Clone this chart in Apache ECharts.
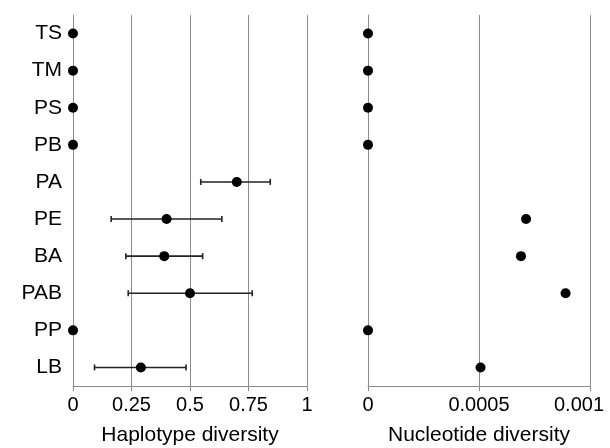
<!DOCTYPE html>
<html>
<head>
<meta charset="utf-8">
<script src="https://cdn.jsdelivr.net/npm/echarts@6/dist/echarts.min.js"></script>
<style>
  html, body { margin: 0; padding: 0; background: #fff; }
  #chart { width: 610px; height: 448px; }
</style>
</head>
<body>
<div id="chart"></div>
<script>
var populations = ["TS", "TM", "PS", "PB", "PA", "PE", "BA", "PAB", "PP", "LB"];
// haplotype diversity with error range
var hapValues = [0, 0, 0, 0, 0.70, 0.40, 0.39, 0.50, 0, 0.29];
var hapLow = [null, null, null, null, 0.546, 0.163, 0.226, 0.236, null, 0.092];
var hapHigh = [null, null, null, null, 0.843, 0.636, 0.554, 0.766, null, 0.483];
// nucleotide diversity (PA has no value)
var nucValues = [0, 0, 0, 0, null, 0.000712, 0.000689, 0.00089, 0, 0.000507];

var fontFamily = "'Liberation Sans', Arial, sans-serif";
var gray = "#8c8c8c";

var hapPoints = [];
var hapBars = [];
var nucPoints = [];
populations.forEach(function (p, i) {
  hapPoints.push([hapValues[i], p]);
  if (hapLow[i] != null) {
    hapBars.push([hapLow[i], hapHigh[i], i]);
  }
  if (nucValues[i] != null) {
    nucPoints.push([nucValues[i], p]);
  }
});

function errorBar(params, api) {
  var y = api.value(2);
  var a = api.coord([api.value(0), y]);
  var b = api.coord([api.value(1), y]);
  var h = 3;
  var style = { stroke: "#222", lineWidth: 1.6 };
  return {
    type: "group",
    children: [
      { type: "line", shape: { x1: a[0], y1: a[1], x2: b[0], y2: b[1] }, style: style },
      { type: "line", shape: { x1: a[0], y1: a[1] - h, x2: a[0], y2: a[1] + h }, style: style },
      { type: "line", shape: { x1: b[0], y1: b[1] - h, x2: b[0], y2: b[1] + h }, style: style }
    ]
  };
}

function valueAxis(gridIndex, max, interval, name) {
  return {
    type: "value",
    gridIndex: gridIndex,
    min: 0,
    max: max,
    interval: interval,
    name: name,
    nameLocation: "middle",
    nameGap: 39,
    nameTextStyle: { color: "#000", fontSize: 21, fontFamily: fontFamily },
    axisLine: { show: true, lineStyle: { color: gray, width: 1 } },
    axisTick: { show: true, length: 5, lineStyle: { color: gray } },
    axisLabel: {
      color: "#000",
      fontSize: 20,
      fontFamily: fontFamily,
      margin: 9,
      // last label on the right panel sits a bit left, like in the original
      formatter: function (v) {
        return gridIndex === 1 && v === max ? "{m|" + v + "}" : String(v);
      },
      rich: {
        m: { color: "#000", fontSize: 20, fontFamily: fontFamily, padding: [0, 22, 0, 0] }
      }
    },
    splitLine: { show: true, lineStyle: { color: gray, width: 1 } }
  };
}

function catAxis(gridIndex, showLabels) {
  return {
    type: "category",
    gridIndex: gridIndex,
    data: populations,
    inverse: true,
    axisLine: { show: true, onZero: false, lineStyle: { color: gray, width: 1 } },
    axisTick: { show: false },
    axisLabel: { show: showLabels, color: "#000", fontSize: 21, fontFamily: fontFamily, margin: 11 },
    splitLine: { show: false }
  };
}

var chart = echarts.init(document.getElementById("chart"));
chart.setOption({
  backgroundColor: "#fff",
  animation: false,
  grid: [
    { left: 73, right: 303, top: 15, bottom: 62, outerBoundsMode: "none" },
    { left: 368, right: 20, top: 15, bottom: 62, outerBoundsMode: "none" }
  ],
  xAxis: [
    valueAxis(0, 1, 0.25, "Haplotype diversity"),
    valueAxis(1, 0.001, 0.0005, "Nucleotide diversity")
  ],
  yAxis: [catAxis(0, true), catAxis(1, false)],
  series: [
    {
      type: "custom",
      xAxisIndex: 0,
      yAxisIndex: 0,
      renderItem: errorBar,
      encode: { x: [0, 1], y: 2 },
      data: hapBars,
      z: 2
    },
    {
      type: "scatter",
      xAxisIndex: 0,
      yAxisIndex: 0,
      symbolSize: 10,
      itemStyle: { color: "#000", opacity: 1 },
      data: hapPoints,
      z: 3
    },
    {
      type: "scatter",
      xAxisIndex: 1,
      yAxisIndex: 1,
      symbolSize: 10,
      itemStyle: { color: "#000", opacity: 1 },
      data: nucPoints,
      z: 3
    }
  ]
});
</script>
</body>
</html>
